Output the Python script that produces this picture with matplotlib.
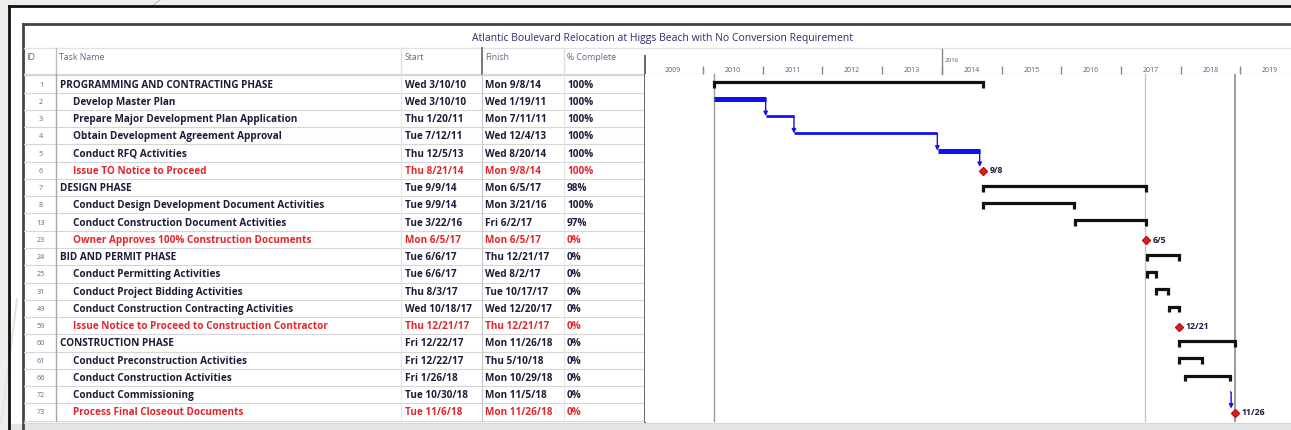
import numpy as np
import pandas as pd
import matplotlib
matplotlib.use("Agg")
import matplotlib.pyplot as plt
import matplotlib.dates as mdates
from matplotlib.transforms import blended_transform_factory

plt.rcParams['font.family'] = ['Open Sans', 'DejaVu Sans']

title = "Atlantic Boulevard Relocation at Higgs Beach with No Conversion Requirement"
col_headers = ["ID", "Task Name", "Start", "Finish", "% Complete"]

task_ids = [1, 2, 3, 4, 5, 6, 7, 8, 13, 23, 24, 25, 31, 49, 59, 60, 61, 66, 72, 73]
task_names = [
    "PROGRAMMING AND CONTRACTING PHASE",
    "Develop Master Plan",
    "Prepare Major Development Plan Application",
    "Obtain Development Agreement Approval",
    "Conduct RFQ Activities",
    "Issue TO Notice to Proceed",
    "DESIGN PHASE",
    "Conduct Design Development Document Activities",
    "Conduct Construction Document Activities",
    "Owner Approves 100% Construction Documents",
    "BID AND PERMIT PHASE",
    "Conduct Permitting Activities",
    "Conduct Project Bidding Activities",
    "Conduct Construction Contracting Activities",
    "Issue Notice to Proceed to Construction Contractor",
    "CONSTRUCTION PHASE",
    "Conduct Preconstruction Activities",
    "Conduct Construction Activities",
    "Conduct Commissioning",
    "Process Final Closeout Documents",
]
starts = ["Wed 3/10/10", "Wed 3/10/10", "Thu 1/20/11", "Tue 7/12/11", "Thu 12/5/13",
          "Thu 8/21/14", "Tue 9/9/14", "Tue 9/9/14", "Tue 3/22/16", "Mon 6/5/17",
          "Tue 6/6/17", "Tue 6/6/17", "Thu 8/3/17", "Wed 10/18/17", "Thu 12/21/17",
          "Fri 12/22/17", "Fri 12/22/17", "Fri 1/26/18", "Tue 10/30/18", "Tue 11/6/18"]
finishes = ["Mon 9/8/14", "Wed 1/19/11", "Mon 7/11/11", "Wed 12/4/13", "Wed 8/20/14",
            "Mon 9/8/14", "Mon 6/5/17", "Mon 3/21/16", "Fri 6/2/17", "Mon 6/5/17",
            "Thu 12/21/17", "Wed 8/2/17", "Tue 10/17/17", "Wed 12/20/17", "Thu 12/21/17",
            "Mon 11/26/18", "Thu 5/10/18", "Mon 10/29/18", "Mon 11/5/18", "Mon 11/26/18"]
pct_complete = [100, 100, 100, 100, 100, 100, 98, 100, 97, 0,
                0, 0, 0, 0, 0, 0, 0, 0, 0, 0]
kinds = ["summary", "done", "done", "done", "done", "milestone",
         "summary", "task", "task", "milestone",
         "summary", "task", "task", "task", "milestone",
         "summary", "task", "task", "done", "milestone"]
links = [(2, 3), (3, 4), (4, 5), (5, 6), (72, 73)]
status_date = "2017-05-28"
top_tier_label = "2016"
top_tier_date = "2014-01-01"

# styling
W, H = 1291, 431
navy = "#1c1c3a"
red = "#e3262b"
blue = "#1010f0"
head_col = "#6a5f8a"
blue_lw = {2: 3.6, 3: 2.0, 4: 2.0, 5: 3.6, 72: 1.2}

start_d = mdates.date2num(pd.to_datetime([s.split()[1] for s in starts], format="%m/%d/%y"))
finish_d = mdates.date2num(pd.to_datetime([s.split()[1] for s in finishes], format="%m/%d/%y"))
n = len(task_ids)
row_of = {t: i for i, t in enumerate(task_ids)}

fig = plt.figure(figsize=(W / 100, H / 100), dpi=100)

# ---- page / frame decoration in pixel coordinates
bg = fig.add_axes([0, 0, 1, 1])
bg.set_xlim(0, W)
bg.set_ylim(H, 0)
bg.axis("off")
bg.add_patch(plt.Rectangle((0, 0), W, H, color="#efeeea", zorder=0))
bg.add_patch(plt.Rectangle((9, 7), W, 418, color="white", zorder=0))
bg.add_patch(plt.Rectangle((9, 425), W, 6, color="#e6e6e6", zorder=0))
bg.plot([161, 151], [0, 8], color="#b0b0b0", lw=0.6)
bg.plot([1, 17], [425, 300], color="#e4e4e0", lw=1.5)
bg.plot([9, W], [7, 7], color="#111111", lw=2)
bg.plot([9, 9], [7, H], color="#111111", lw=2)
bg.plot([23, W], [24.5, 24.5], color="#444444", lw=2)
bg.plot([23, 23], [24.5, H], color="#444444", lw=2)
bg.plot([24, W], [48.5, 48.5], color="#e2e2e2", lw=1)
bg.plot([24, W], [75, 75], color="#dcdcdc", lw=1)
bg.plot([24, W], [424, 424], color="#d8d8d8", lw=1)
bg.text(662, 39, title, ha="center", va="center", fontsize=7.5, color="#2b2b6b")

# header cells
hx = [26, 59, 405, 485, 567]
for x, h in zip(hx, col_headers):
    bg.text(x, 58, h, ha="left", va="center", fontsize=6.3, color=head_col)
for x, c, lw in [(55.5, "#bdbdbd", 1), (400.5, "#e0e0e0", 1), (482, "#777777", 1.4),
                 (563.5, "#e0e0e0", 1)]:
    bg.plot([x, x], [49, 75], color=c, lw=lw)

# ---- table body (x in pixels, y in rows)
tab = fig.add_axes([0, (H - 423) / H, 1, (423 - 75) / H])
tab.set_xlim(0, W)
tab.set_ylim(n - 0.42, -0.58)
tab.axis("off")
for i in range(n):
    tab.plot([24, 645], [i + 0.5, i + 0.5], color="#d6d6d6", lw=0.8)
tab.plot([24, 645], [-0.5, -0.5], color="#cfcfcf", lw=0.8)
tab.plot([55.5, 55.5], [-0.58, n - 0.42], color="#a8a8a8", lw=1)
tab.plot([400.5, 400.5], [-0.58, n - 0.42], color="#e4e4e4", lw=0.8)
tab.plot([482, 482], [-0.58, n - 0.42], color="#c8c8c8", lw=0.8)
tab.plot([563.5, 563.5], [-0.58, n - 0.42], color="#e4e4e4", lw=0.8)
tab.plot([645, 645], [-1.6, n - 0.42], color="#666666", lw=1.4, clip_on=False)

fs = 7.2
for i in range(n):
    col = red if kinds[i] == "milestone" else navy
    tab.text(41, i, str(task_ids[i]), ha="center", va="center", fontsize=5.2, color="#5a6a8a")
    x_name = 60 if kinds[i] == "summary" else 73
    tab.text(x_name, i, task_names[i], ha="left", va="center", fontsize=fs,
             fontweight="bold", color=col)
    tab.text(405, i, starts[i], ha="left", va="center", fontsize=fs, fontweight="bold", color=col)
    tab.text(485, i, finishes[i], ha="left", va="center", fontsize=fs, fontweight="bold", color=col)
    tab.text(567, i, f"{pct_complete[i]}%", ha="left", va="center", fontsize=fs,
             fontweight="bold", color=col)

# ---- gantt area
ax = fig.add_axes([645 / W, (H - 423) / H, 1 - 645 / W, (423 - 75) / H])
ax.set_xlim(mdates.datestr2num("2009-01-11"), mdates.datestr2num("2019-11-06"))
ax.set_ylim(n - 0.42, -0.58)
for s in ax.spines.values():
    s.set_visible(False)
ax.set_yticks([])
ax.xaxis.tick_top()
ax.xaxis.set_major_locator(mdates.YearLocator())
ax.xaxis.set_major_formatter(plt.NullFormatter())
ax.xaxis.set_minor_locator(mdates.MonthLocator(bymonth=7))
ax.xaxis.set_minor_formatter(mdates.DateFormatter("%Y"))
ax.tick_params(axis="x", which="major", direction="out", length=6, width=1, color="#888888")
ax.tick_params(axis="x", which="minor", length=0, pad=1.0, labelsize=5, labelcolor="#555a80")

tr = blended_transform_factory(ax.transData, ax.transAxes)
t0 = mdates.datestr2num(top_tier_date)
ax.plot([t0, t0], [1, 1 + 25 / 348], transform=tr, color="#888888", lw=1, clip_on=False)
ax.text(t0 + 20, 1 + 15 / 348, top_tier_label, transform=tr, fontsize=4.5,
        color="#555a80", va="center")

ax.axvline(start_d[0], color="#9a9a9a", lw=1)
ax.axvline(finish_d[-1], color="#8a8a8a", lw=1.2)
ax.axvline(mdates.datestr2num(status_date), color="#a8d8a0", lw=0.9)

for i in range(n):
    x0, x1 = start_d[i], finish_d[i]
    k = kinds[i]
    if k in ("summary", "task"):
        y = i - 0.1
        ax.plot([x0, x0, x1, x1], [y + 0.33, y, y, y + 0.33], color="#111111", lw=2.3,
                solid_joinstyle="miter", solid_capstyle="butt")
    elif k == "done":
        y = i - 0.14
        ax.plot([x0, x1], [y, y], color=blue, lw=blue_lw[task_ids[i]], solid_capstyle="butt")
    else:
        ax.plot(x1, i + 0.05, marker="D", ms=4.2, color="#d4202a", mec="#c01010")
        d = pd.Timestamp(mdates.num2date(x1).date())
        ax.text(x1 + 40, i - 0.02, f"{d.month}/{d.day}", fontsize=6.3, fontweight="bold",
                color=navy, va="center")

for a, b in links:
    ia, ib = row_of[a], row_of[b]
    xa = finish_d[ia]
    yb = ib - 0.2 if kinds[ib] == "milestone" else ib - 0.14
    ax.annotate("", xy=(xa, yb), xytext=(xa, ia - 0.14),
                arrowprops=dict(arrowstyle="-|>", color=blue, lw=1, mutation_scale=6,
                                shrinkA=0, shrinkB=0))

fig.savefig("out.png", dpi=100)
